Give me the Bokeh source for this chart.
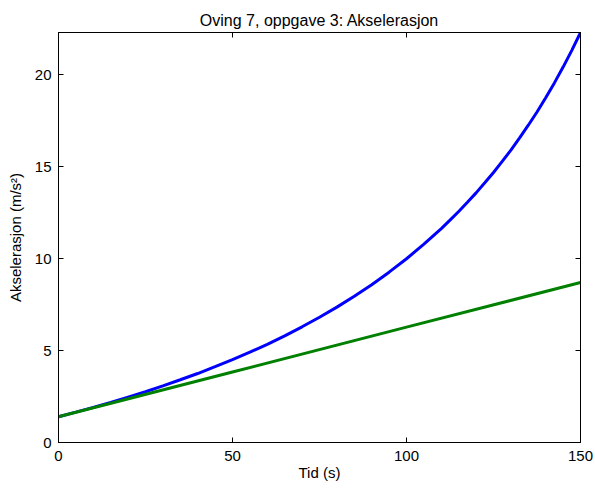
from bokeh.plotting import figure
from bokeh.models import Range1d, LinearAxis, FixedTicker
from bokeh.embed import file_html
from bokeh.resources import INLINE

# data
t_blue = [0, 5, 10, 15, 20, 25, 30, 35, 40, 45, 50, 55, 60, 65, 70, 75, 80, 85, 90, 95,
          100, 105, 110, 112.5, 115, 117.5, 120, 122.5, 125, 127.5, 130, 132.5, 135,
          137.5, 140, 142.5, 145, 147.5, 150]
a_blue = [1.40, 1.65, 1.91, 2.18, 2.47, 2.76, 3.08, 3.41, 3.75, 4.12, 4.51, 4.91, 5.34,
          5.80, 6.29, 6.81, 7.36, 7.95, 8.58, 9.26, 9.99, 10.78, 11.63, 12.09, 12.56,
          13.06, 13.57, 14.12, 14.68, 15.28, 15.90, 16.56, 17.25, 17.97, 18.74, 19.55,
          20.41, 21.32, 22.29]
t_green = [0, 50, 100, 150]
a_green = [1.40, 3.83, 6.27, 8.70]

x_ticks = [0, 50, 100, 150]
y_ticks = [0, 5, 10, 15, 20]

FONT = "Liberation Sans"
FS = "15px"

p = figure(width=595, height=489, output_backend="svg", toolbar_location=None,
           x_range=Range1d(0, 150), y_range=Range1d(0, 22.29),
           min_border_left=58, min_border_right=15, min_border_top=32, min_border_bottom=47,
           title="Oving 7, oppgave 3: Akselerasjon")
p.title.align = "center"
p.title.text_font = FONT
p.title.text_font_size = "16px"
p.title.text_font_style = "normal"
p.title.text_color = "black"
p.title.standoff = 8

p.xgrid.visible = False
p.ygrid.visible = False
p.outline_line_color = "black"
p.outline_line_width = 1
p.background_fill_color = "white"
p.border_fill_color = "white"

p.line(t_blue, a_blue, line_color="#0000ff", line_width=3)
p.line(t_green, a_green, line_color="#008000", line_width=3)

def style(ax):
    ax.major_tick_in = 5
    ax.major_tick_out = 0
    ax.minor_tick_in = 0
    ax.minor_tick_out = 0
    ax.axis_line_color = "black"
    ax.major_tick_line_color = "black"
    ax.major_label_text_font = FONT
    ax.major_label_text_font_size = FS
    ax.major_label_text_color = "black"
    ax.axis_label_text_font = FONT
    ax.axis_label_text_font_size = FS
    ax.axis_label_text_font_style = "normal"
    ax.axis_label_text_color = "black"

p.xaxis.ticker = FixedTicker(ticks=x_ticks)
p.yaxis.ticker = FixedTicker(ticks=y_ticks)
p.xaxis.axis_label = "Tid (s)"
p.yaxis.axis_label = "Akselerasjon (m/s²)"
style(p.xaxis[0])
style(p.yaxis[0])
p.xaxis.major_label_standoff = 8
p.yaxis.major_label_standoff = 7
p.xaxis.axis_label_standoff = 0
p.yaxis.axis_label_standoff = 8

top = LinearAxis(ticker=FixedTicker(ticks=x_ticks),
                 major_label_overrides={t: "" for t in x_ticks})
right = LinearAxis(ticker=FixedTicker(ticks=y_ticks),
                   major_label_overrides={t: "" for t in y_ticks})
style(top)
style(right)
top.major_label_standoff = 0
right.major_label_standoff = 0
p.add_layout(top, "above")
p.add_layout(right, "right")

open("out.html", "w").write(file_html(p, INLINE))
